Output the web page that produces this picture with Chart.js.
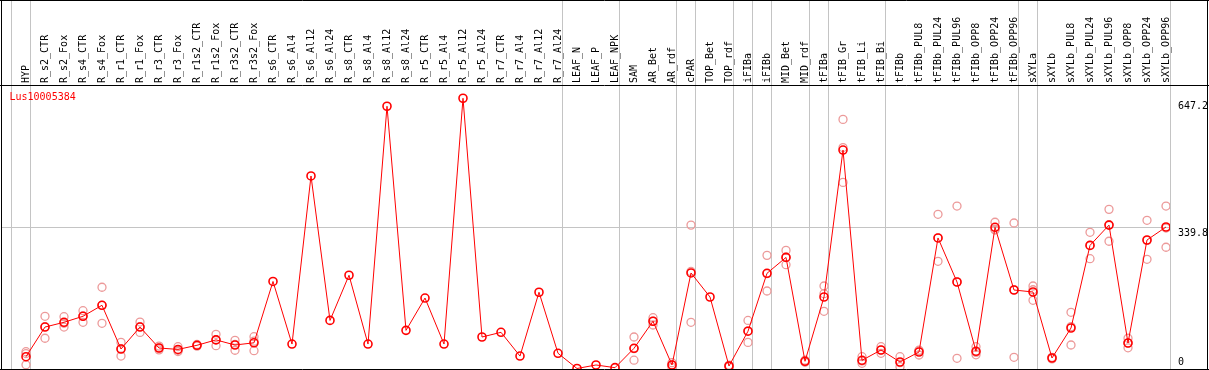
<!DOCTYPE html>
<html>
<head>
<meta charset="utf-8">
<script src="https://cdn.jsdelivr.net/npm/chart.js@4"></script>
<style>
  html, body { margin: 0; padding: 0; background: #fff; }
  #chart { display: block; }
</style>
</head>
<body>
<canvas id="chart" width="1209" height="370"></canvas>
<script>
"use strict";

// ── Data
const seriesName = "Lus10005384";
const categories = [
  "HYP", "R_s2_CTR", "R_s2_Fox", "R_s4_CTR", "R_s4_Fox", "R_r1_CTR", "R_r1_Fox", "R_r3_CTR", "R_r3_Fox",
  "R_r1s2_CTR", "R_r1s2_Fox", "R_r3s2_CTR", "R_r3s2_Fox", "R_s6_CTR", "R_s6_Al4", "R_s6_Al12", "R_s6_Al24",
  "R_s8_CTR", "R_s8_Al4", "R_s8_Al12", "R_s8_Al24", "R_r5_CTR", "R_r5_Al4", "R_r5_Al12", "R_r5_Al24",
  "R_r7_CTR", "R_r7_Al4", "R_r7_Al12", "R_r7_Al24", "LEAF_N", "LEAF_P", "LEAF_NPK", "SAM", "AR_Bet", "AR_rdf",
  "cPAR", "TOP_Bet", "TOP_rdf", "iFIBa", "iFIBb", "MID_Bet", "MID_rdf", "tFIBa", "tFIB_Gr", "tFIB_Li", "tFIB_Bi",
  "tFIBb", "tFIBb_PUL8", "tFIBb_PUL24", "tFIBb_PUL96", "tFIBb_OPP8", "tFIBb_OPP24", "tFIBb_OPP96",
  "sXYLa", "sXYLb", "sXYLb_PUL8", "sXYLb_PUL24", "sXYLb_PUL96", "sXYLb_OPP8", "sXYLb_OPP24", "sXYLb_OPP96"
];
// last category index of each group (vertical separators)
const groupEnds = [-1, 0, 28, 31, 34, 35, 37, 38, 39, 41, 42, 45, 52, 53, 60];

const means = [
  28.5, 100, 111.5, 126, 152.5, 47, 100, 49.5, 46, 56, 69, 56.7, 62, 210, 59, 464.5, 116, 225, 59, 632.7,
  92, 170, 59, 652, 76, 87.3, 30, 184, 36.7, 0, 8.5, 2, 48.7, 114, 8.5, 230.5, 172.5, 6, 90, 229.7,
  268, 17.4, 172.5, 527, 19.8, 44.6, 15.7, 39.8, 315, 208.7, 41.5, 340.7, 189.4, 184.6, 25.3, 97.7, 297, 346,
  61.5, 310, 341.4
];
const rep1 = [
  40.5, 126, 125, 139.5, 196, 63, 112, 54, 52.6, 58, 82.5, 68, 76.7,
  null, null, null, null, null, null, null, null, null, null, null, null, null, null, null, null, null, null, null,
  76, 122.6, 14, 346, null, 8, 116, 273, 285, 20, 199, 601, 28.5, 52.6, 28.5, 43, 372, 392,
  52.6, 352.8, 351, 199, 27, 135.6, 328.6, 384, 73, 357.6, 392
];
const rep2 = [
  9, 73, 100, 111.5, 109, 30, 87, 45, 44, 54, 55, 44, 43,
  null, null, null, null, null, null, null, null, null, null, null, null, null, null, null, null, null, null, null,
  20, 105, 3, 111.5, null, 4, 63, 187, 250.5, 15, 138, 449, 12.5, 36.7, 4.3, 32.6, 258.7, 24.6,
  33, 334, 27, 164.6, 23, 56.7, 265, 307, 50, 263.5, 292.5
];
const rep3 = [
  36, 101, 109, 127, 152.5, 48, 101, 49.5, 41, 56, 69.5, 58, 66,
  null, null, null, null, null, null, null, null, null, null, null, null, null, null, null, null, null, null, null,
  48, 114, 8.5, 234, null, 6, 91, 229, 268.5, 17, 180.5, 533, 18, 44.5, 14, 44, 315, 209,
  39, 336, 190, 190, 26, 101, 297, 347, 61, 309, 339
];
const yTicks = [0, 339.8, 647.2];

// ── Helpers
const FONT = { family: "DejaVu Sans Mono", size: 10 };
const toXY = arr => arr.map((v, i) => ({ x: i, y: v }));
const repSet = arr => ({
  data: toXY(arr), showLine: false, order: 1,
  pointRadius: 4, pointBorderWidth: 1.3, pointBorderColor: "#ec9a9a",
  pointBackgroundColor: "rgba(0,0,0,0)", borderColor: "#ec9a9a"
});

// ── Frame, group separators, series name
const decor = {
  id: "decor",
  beforeDraw(chart) {
    const ctx = chart.ctx, xs = chart.scales.x;
    ctx.save();
    ctx.strokeStyle = "#c4c4c4";
    ctx.lineWidth = 1;
    groupEnds.forEach(b => {
      const x = Math.floor(xs.getPixelForValue(b + 0.23)) + 0.5;
      ctx.beginPath(); ctx.moveTo(x, 0); ctx.lineTo(x, chart.height); ctx.stroke();
    });
    ctx.restore();
  },
  afterDraw(chart) {
    const ctx = chart.ctx, a = chart.chartArea;
    ctx.save();
    ctx.strokeStyle = "#000";
    ctx.lineWidth = 1;
    ctx.beginPath();
    ctx.moveTo(0, 0.5); ctx.lineTo(chart.width, 0.5);
    ctx.moveTo(0, a.top + 0.5); ctx.lineTo(chart.width, a.top + 0.5);
    ctx.moveTo(0, chart.height - 0.5); ctx.lineTo(chart.width, chart.height - 0.5);
    ctx.moveTo(1.5, 0); ctx.lineTo(1.5, chart.height);
    ctx.moveTo(chart.width - 1.5, 0); ctx.lineTo(chart.width - 1.5, chart.height);
    ctx.stroke();
    ctx.fillStyle = "#ff0000";
    ctx.font = "10px 'DejaVu Sans Mono'";
    ctx.textBaseline = "middle";
    ctx.fillText(seriesName, 9.5, a.top + 12);
    ctx.restore();
  }
};

new Chart(document.getElementById("chart").getContext("2d"), {
  type: "line",
  data: {
    datasets: [
      { data: toXY(means), order: 0, borderColor: "#ff0000", borderWidth: 1, tension: 0,
        pointRadius: 4, pointBorderWidth: 1.6, pointBorderColor: "#ff0000", pointBackgroundColor: "rgba(0,0,0,0)" },
      repSet(rep1), repSet(rep2), repSet(rep3),
    ]
  },
  options: {
    responsive: false, animation: false, devicePixelRatio: 1,
    layout: { autoPadding: false, padding: { left: 2, right: 0, top: 0, bottom: 1 } },
    plugins: { legend: { display: false }, tooltip: { enabled: false } },
    scales: {
      x: {
        type: "linear", position: "top", min: -1.263, max: 60.21,
        afterBuildTicks: s => { s.ticks = categories.map((_, i) => ({ value: i })); },
        afterFit: s => { s.height = 85; s.paddingLeft = 0; s.paddingRight = 0; },
        grid: { display: false, drawTicks: false }, border: { display: false },
        ticks: { autoSkip: false, minRotation: 90, maxRotation: 90, padding: 2, labelOffset: 12,
                 color: "#000", font: FONT, callback: v => categories[v] }
      },
      y: {
        type: "linear", position: "right", min: -1.2, max: 684,
        afterBuildTicks: s => { s.ticks = yTicks.map(v => ({ value: v })); },
        afterFit: s => { s.width = 39; s.paddingTop = 0; s.paddingBottom = 0; },
        border: { display: false },
        grid: { drawTicks: false, color: c => (c.tick && c.tick.value === 339.8 ? "#c4c4c4" : "rgba(0,0,0,0)") },
        ticks: { padding: 8, color: "#000", font: FONT,
                 callback: v => (v === 0 ? [String(v), ""] : ["", String(v)]) }
      }
    }
  },
  plugins: [decor]
});
</script>
</body>
</html>
